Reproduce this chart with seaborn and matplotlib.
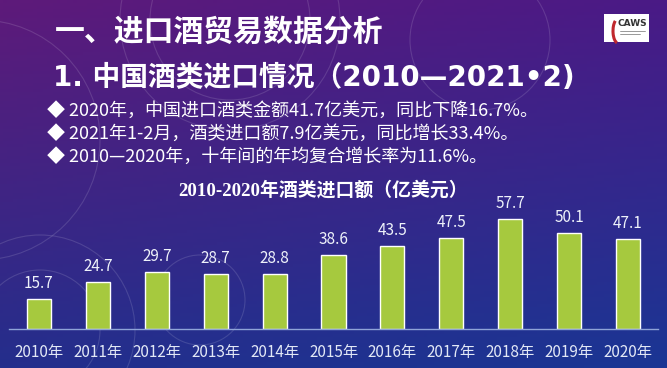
import numpy as np
import pandas as pd
import seaborn as sns
import matplotlib.pyplot as plt
from matplotlib.patches import Circle, Rectangle, Arc

# data
years = ["2010年", "2011年", "2012年", "2013年", "2014年", "2015年",
         "2016年", "2017年", "2018年", "2019年", "2020年"]
imports = [15.7, 24.7, 29.7, 28.7, 28.8, 38.6, 43.5, 47.5, 57.7, 50.1, 47.1]

title_main = "一、进口酒贸易数据分析"
title_sub = "1. 中国酒类进口情况（2010—2021•2)"
bullets = [
    "2020年，中国进口酒类金额41.7亿美元，同比下降16.7%。",
    "2021年1-2月，酒类进口额7.9亿美元，同比增长33.4%。",
    "2010—2020年，十年间的年均复合增长率为11.6%。",
]
chart_title = "2010-2020年酒类进口额（亿美元）"

sns.set_theme(style="white")
plt.rcParams["font.family"] = ["Noto Sans CJK SC", "DejaVu Sans"]

W, H = 667, 368
fig = plt.figure(figsize=(W / 100, H / 100), dpi=100)


def fx(px):
    return px / W


def fy(py):
    return 1 - py / H


# background gradient
bg = fig.add_axes([0, 0, 1, 1])
bg.set_axis_off()
tl = np.array([0x5e, 0x1a, 0x7a]) / 255
tr = np.array([0x4a, 0x1a, 0x86]) / 255
bl = np.array([0x24, 0x2e, 0x8c]) / 255
br = np.array([0x1a, 0x36, 0x94]) / 255
u = np.linspace(0, 1, 200)[None, :, None]
v = np.linspace(0, 1, 120)[:, None, None]
img = (1 - v) * ((1 - u) * tl + u * tr) + v * ((1 - u) * bl + u * br)
bg.imshow(img, extent=[0, W, H, 0], aspect="auto")
bg.set_xlim(0, W)
bg.set_ylim(H, 0)

# faint decorative rings
for cx, cy, r in [(230, 20, 110), (230, 20, 80), (480, 40, 70), (40, 330, 95),
                  (40, 330, 60), (200, 300, 45), (-20, 140, 120)]:
    bg.add_patch(Circle((cx, cy), r, fill=False, ec="white", lw=0.8, alpha=0.13))

# logo
bg.add_patch(Rectangle((604, 14), 45, 28, fc="white", ec="none"))
bg.add_patch(Arc((618, 31), 10, 24, theta1=95, theta2=255, color="#c0282d", lw=2.2))
bg.text(632, 24, "CAWS", fontsize=6.5, fontweight="bold", color="#333333",
        ha="center", va="center", family="DejaVu Sans")
bg.plot([620, 645], [31, 31], color="#888888", lw=0.6)
bg.plot([620, 640], [34, 34], color="#888888", lw=0.6)

# titles and bullets
fig.text(fx(55), fy(32), title_main, fontsize=21.5, fontweight="bold",
         color="white", va="center")
fig.text(fx(53), fy(78), title_sub, fontsize=20, fontweight="bold",
         color="white", va="center", family=["DejaVu Sans", "Noto Sans CJK SC"])
for i, b in enumerate(bullets):
    fig.text(fx(47), fy(111 + 23 * i), "◆ " + b, fontsize=13, color="white",
             va="center")
fig.text(fx(323), fy(190), chart_title, fontsize=13.6, fontweight="bold",
         color="white", ha="center", va="center",
         family=["Liberation Serif", "Noto Sans CJK SC"])

# bar chart
df = pd.DataFrame({"year": years, "value": imports})
ax = fig.add_axes([fx(9.5), 39 / H, 648 / W, 130 / H])
ax.patch.set_alpha(0)
sns.barplot(data=df, x="year", y="value", color="#a6c93e", width=0.41,
            saturation=1, ax=ax)
ax.set_xlim(-0.5, len(years) - 0.5)
ax.set_ylim(0, 130 / 1.91)
for s in ["top", "right", "left"]:
    ax.spines[s].set_visible(False)
ax.spines["bottom"].set_color("#8fa4d8")
ax.spines["bottom"].set_linewidth(1)
ax.set_yticks([])
ax.set_xlabel("")
ax.set_ylabel("")
ax.tick_params(axis="x", length=0, pad=11, labelsize=11, labelcolor="#e2e8f6")
for c in ax.containers:
    ax.bar_label(c, fmt="%.1f", padding=5, fontsize=11, color="#eef2fa")

fig.savefig("out.png", dpi=100)
